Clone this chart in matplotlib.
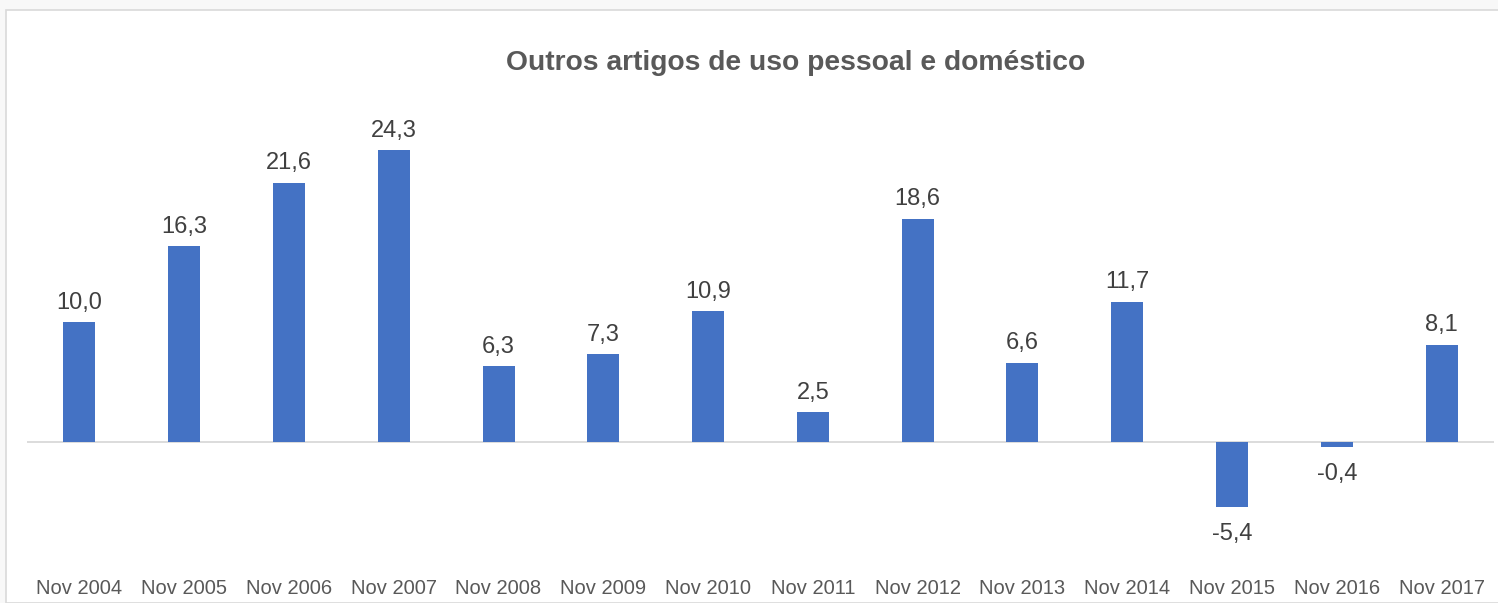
import matplotlib.pyplot as plt
from matplotlib.patches import Rectangle

categorias = ['Nov 2004', 'Nov 2005', 'Nov 2006', 'Nov 2007', 'Nov 2008', 'Nov 2009',
              'Nov 2010', 'Nov 2011', 'Nov 2012', 'Nov 2013', 'Nov 2014', 'Nov 2015',
              'Nov 2016', 'Nov 2017']
valores = [10.0, 16.3, 21.6, 24.3, 6.3, 7.3, 10.9, 2.5, 18.6, 6.6, 11.7, -5.4, -0.4, 8.1]
titulo = 'Outros artigos de uso pessoal e doméstico'

plt.rcParams['font.family'] = ['Liberation Sans', 'DejaVu Sans']

W, H = 1498, 603
fig = plt.figure(figsize=(W / 100, H / 100), dpi=100, facecolor='#f8f8f8')

# white chart area with thin grey border (behind the axes)
fig.patches.append(Rectangle((6 / W, 0), 1.0, 1 - 10 / H, transform=fig.transFigure,
                             facecolor='white', edgecolor='#d9d9d9', linewidth=1.2,
                             zorder=-1))

ax = fig.add_axes([27 / W, (H - 562) / H, (1494 - 27) / W, (562 - 82) / H])
ax.set_facecolor('none')

x = range(len(categorias))
ax.bar(x, valores, width=0.305, color='#4472C4', zorder=3)
ax.axhline(0, color='#d9d9d9', linewidth=1.3, zorder=2)

for xi, v in zip(x, valores):
    texto = f'{v:.1f}'.replace('.', ',')
    if v >= 0:
        ax.annotate(texto, (xi, v), xytext=(0, 6), textcoords='offset points',
                    ha='center', va='bottom', fontsize=17, color='#404040')
    else:
        ax.annotate(texto, (xi, v), xytext=(0, -12), textcoords='offset points',
                    ha='center', va='top', fontsize=17, color='#404040')

ax.set_xlim(-0.5, len(categorias) - 0.5)
ax.set_ylim(-10, 30)
ax.set_xticks(list(x))
ax.set_xticklabels(categorias, fontsize=14.5, color='#595959')
ax.tick_params(axis='x', length=0, pad=12.5)
ax.set_yticks([])
for s in ax.spines.values():
    s.set_visible(False)

fig.text(796 / W, 1 - 63 / H, titulo, ha='center', va='center', fontsize=20.3,
         fontweight='bold', color='#595959')

fig.savefig('out.png', dpi=100, facecolor=fig.get_facecolor())
